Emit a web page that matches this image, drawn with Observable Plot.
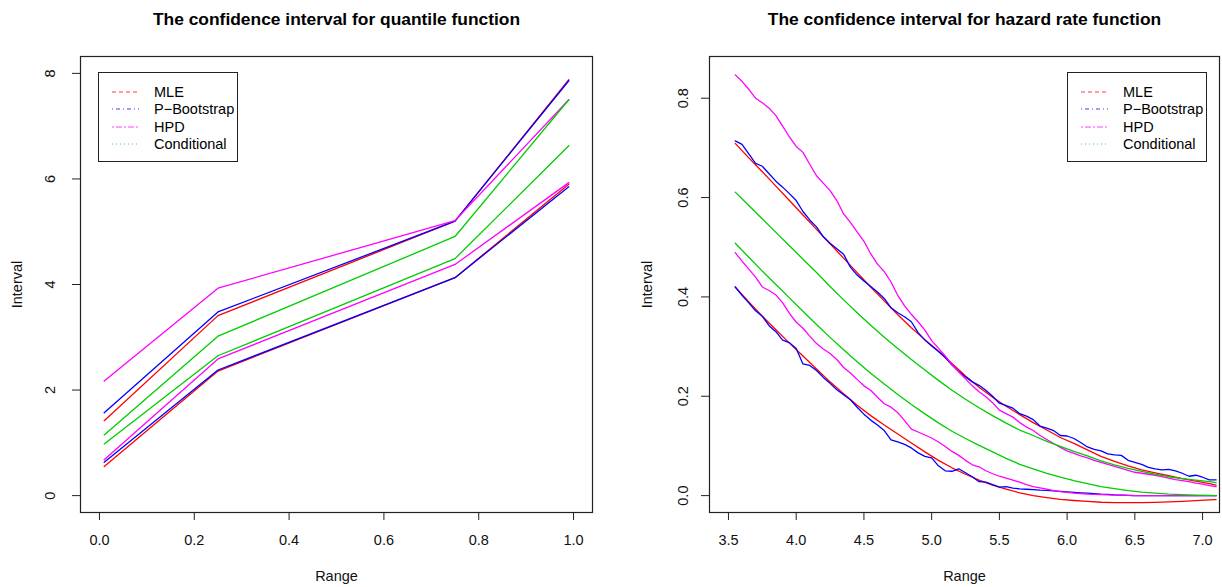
<!DOCTYPE html>
<html><head><meta charset="utf-8">
<script src="https://cdn.jsdelivr.net/npm/d3@7"></script>
<script src="https://cdn.jsdelivr.net/npm/@observablehq/plot@0.6"></script>
<style>
html,body{margin:0;padding:0;background:#fff;}
#wrap{position:relative;width:1222px;height:587px;overflow:hidden;font-family:"Liberation Sans",Arial,Helvetica,sans-serif;color:#000;}
.panel{position:absolute;top:0;}
.legend{position:absolute;border:1px solid #222;box-sizing:border-box;background:#fff;}
.legend .row{position:absolute;left:0;height:18px;line-height:18px;font-size:14.5px;white-space:nowrap;}
.legend svg{position:absolute;left:13px;top:0;}
.legend span{position:absolute;left:55px;top:0;}
</style></head>
<body><div id="wrap"></div>
<script>
// ---------- Data: left panel (quantile function) ----------
const quantileP = [0.01, 0.25, 0.75, 0.99];
const mleLowerQ  = [0.55, 2.36, 4.13, 5.90];
const mleUpperQ  = [1.42, 3.41, 5.20, 7.88];
const bootLowerQ = [0.63, 2.38, 4.13, 5.85];
const bootUpperQ = [1.57, 3.48, 5.20, 7.86];
const hpdLowerQ  = [0.68, 2.59, 4.38, 5.93];
const hpdUpperQ  = [2.17, 3.93, 5.21, 7.50];
const condLowerQ = [0.98, 2.65, 4.49, 6.63];
const condUpperQ = [1.15, 3.02, 4.91, 7.50];
const xTicksQ = [0, 0.2, 0.4, 0.6, 0.8, 1.0];
const yTicksQ = [0, 2, 4, 6, 8];

// ---------- Data: right panel (hazard rate function) ----------
const xs10 = [3.55,3.65,3.75,3.85,3.95,4.05,4.15,4.25,4.35,4.45,4.55,4.65,4.75,4.85,4.95,5.05,5.15,5.25,5.35,5.45,5.55,5.65,5.75,5.85,5.95,6.05,6.15,6.25,6.35,6.45,6.55,6.65,6.75,6.85,6.95,7.05,7.10];
const xs05 = [3.55,3.60,3.65,3.70,3.75,3.80,3.85,3.90,3.95,4.00,4.05,4.10,4.15,4.20,4.25,4.30,4.35,4.40,4.45,4.50,4.55,4.60,4.65,4.70,4.75,4.80,4.85,4.90,4.95,5.00,5.05,5.10,5.15,5.20,5.25,5.30,5.35,5.40,5.45,5.50,5.55,5.60,5.65,5.70,5.75,5.80,5.85,5.90,5.95,6.00,6.05,6.10,6.15,6.20,6.25,6.30,6.35,6.40,6.45,6.50,6.55,6.60,6.65,6.70,6.75,6.80,6.85,6.90,6.95,7.00,7.05,7.10];

const mleUpperH = [0.709,0.680,0.652,0.623,0.594,0.565,0.536,0.507,0.478,0.449,0.420,0.392,0.364,0.338,0.314,0.291,0.266,0.241,0.218,0.198,0.180,0.163,0.147,0.132,0.117,0.105,0.092,0.079,0.069,0.060,0.052,0.046,0.040,0.034,0.029,0.024,0.021];
const mleLowerH = [0.420,0.390,0.361,0.334,0.307,0.281,0.255,0.229,0.205,0.182,0.161,0.142,0.124,0.106,0.088,0.071,0.056,0.043,0.031,0.021,0.013,0.0055,0.000,-0.004,-0.0075,-0.0098,-0.0118,-0.0134,-0.014,-0.0142,-0.014,-0.0135,-0.0127,-0.0115,-0.010,-0.0085,-0.008];
const condUpperH = [0.611,0.584,0.557,0.530,0.503,0.476,0.449,0.421,0.394,0.368,0.343,0.319,0.296,0.274,0.253,0.232,0.212,0.194,0.177,0.161,0.146,0.132,0.121,0.109,0.099,0.089,0.080,0.070,0.062,0.055,0.049,0.043,0.038,0.034,0.031,0.028,0.026];
const condLowerH = [0.508,0.480,0.452,0.425,0.398,0.371,0.3445,0.3185,0.2935,0.2695,0.2465,0.2245,0.2035,0.1835,0.1645,0.1465,0.1295,0.115,0.101,0.088,0.075,0.063,0.054,0.045,0.037,0.030,0.024,0.018,0.014,0.010,0.007,0.005,0.003,0.002,0.001,0.0005,0.000];

const bootUpperH = [0.714,0.707,0.688,0.669,0.663,0.648,0.633,0.621,0.608,0.594,0.572,0.555,0.541,0.521,0.508,0.497,0.486,0.460,0.444,0.432,0.421,0.410,0.397,0.378,0.368,0.360,0.350,0.328,0.313,0.301,0.290,0.278,0.263,0.250,0.239,0.229,0.222,0.212,0.200,0.186,0.181,0.176,0.165,0.160,0.153,0.140,0.136,0.131,0.121,0.120,0.115,0.107,0.098,0.093,0.090,0.084,0.082,0.081,0.071,0.067,0.063,0.057,0.054,0.052,0.053,0.050,0.045,0.039,0.041,0.037,0.0315,0.0315];
const bootLowerH = [0.420,0.403,0.388,0.372,0.361,0.342,0.330,0.313,0.308,0.296,0.265,0.262,0.252,0.238,0.226,0.213,0.203,0.193,0.178,0.164,0.152,0.142,0.131,0.112,0.108,0.103,0.096,0.086,0.079,0.076,0.060,0.050,0.049,0.054,0.046,0.038,0.028,0.027,0.022,0.017,0.018,0.015,0.0135,0.0128,0.012,0.011,0.0105,0.0095,0.0085,0.0075,0.0065,0.0057,0.005,0.004,0.003,0.0025,0.0015,0.001,0.0005,0,0,0,0,0,0,0,0,0,0,0,0,0];
const hpdUpperH = [0.847,0.834,0.818,0.800,0.791,0.780,0.765,0.744,0.722,0.703,0.691,0.667,0.644,0.629,0.614,0.594,0.567,0.550,0.531,0.512,0.487,0.466,0.451,0.430,0.403,0.382,0.365,0.350,0.333,0.312,0.297,0.281,0.264,0.249,0.235,0.221,0.209,0.199,0.187,0.172,0.165,0.158,0.147,0.138,0.131,0.121,0.113,0.105,0.097,0.090,0.085,0.080,0.076,0.071,0.067,0.063,0.059,0.055,0.051,0.047,0.045,0.043,0.041,0.038,0.035,0.032,0.030,0.028,0.025,0.023,0.020,0.018];
const hpdLowerH = [0.489,0.472,0.456,0.440,0.420,0.413,0.404,0.388,0.367,0.349,0.337,0.321,0.306,0.295,0.286,0.274,0.258,0.247,0.234,0.221,0.212,0.198,0.185,0.178,0.167,0.151,0.134,0.128,0.122,0.116,0.108,0.099,0.089,0.081,0.071,0.062,0.058,0.050,0.044,0.039,0.035,0.031,0.027,0.022,0.018,0.0155,0.013,0.010,0.008,0.0067,0.005,0.004,0.003,0.0025,0.002,0.0015,0.001,0.0008,0.0005,0,0,0,0,0,0,0,0,0,0,0,0,0];
const xTicksH = [3.5, 4.0, 4.5, 5.0, 5.5, 6.0, 6.5, 7.0];
const yTicksH = [0.0, 0.2, 0.4, 0.6, 0.8];

const methods = ["MLE", "P\u2212Bootstrap", "HPD", "Conditional"];
const methodColors = ["#ff0000", "#0000ff", "#ff00ff", "#00cd00"];
const legendDash = ["4,3", "1,3,4,3", "2,2,6,2", "1,3"];

// ---------- build long tables ----------
function addSeries(rows, xs, ys, method, bound) {
  ys.forEach((v, i) => rows.push({x: xs[i], y: v, method, key: method + "-" + bound}));
}
const rowsQ = [];
addSeries(rowsQ, quantileP, mleLowerQ, methods[0], "lo"); addSeries(rowsQ, quantileP, mleUpperQ, methods[0], "hi");
addSeries(rowsQ, quantileP, bootLowerQ, methods[1], "lo"); addSeries(rowsQ, quantileP, bootUpperQ, methods[1], "hi");
addSeries(rowsQ, quantileP, hpdLowerQ, methods[2], "lo"); addSeries(rowsQ, quantileP, hpdUpperQ, methods[2], "hi");
addSeries(rowsQ, quantileP, condLowerQ, methods[3], "lo"); addSeries(rowsQ, quantileP, condUpperQ, methods[3], "hi");

const rowsH = [];
addSeries(rowsH, xs10, mleLowerH, methods[0], "lo"); addSeries(rowsH, xs10, mleUpperH, methods[0], "hi");
addSeries(rowsH, xs05, bootLowerH, methods[1], "lo"); addSeries(rowsH, xs05, bootUpperH, methods[1], "hi");
addSeries(rowsH, xs05, hpdLowerH, methods[2], "lo"); addSeries(rowsH, xs05, hpdUpperH, methods[2], "hi");
addSeries(rowsH, xs10, condLowerH, methods[3], "lo"); addSeries(rowsH, xs10, condUpperH, methods[3], "hi");

const FONT = '"Liberation Sans", Arial, Helvetica, sans-serif';
const T = {textAnchor: "middle", lineAnchor: "middle"};

function panel({rows, title, xDomain, yDomain, xTicks, yTicks, xFmt, yFmt, marginLeft, marginRight, yLabDx, yTitleDx}) {
  return Plot.plot({
    width: 611, height: 587,
    marginLeft, marginRight, marginTop: 56, marginBottom: 75,
    style: {fontFamily: FONT, fontSize: "14.5px", color: "#000", background: "transparent", overflow: "visible"},
    x: {domain: xDomain},
    y: {domain: yDomain},
    color: {domain: methods, range: methodColors},
    marks: [
      Plot.axisX({ticks: xTicks, tickSize: 8, tickFormat: () => "", label: null, stroke: "#222"}),
      Plot.axisY({ticks: yTicks, tickSize: 8, tickFormat: () => "", label: null, stroke: "#222"}),
      Plot.text(xTicks, {...T, x: d => d, frameAnchor: "bottom", dy: 28, text: xFmt, fontSize: 14.5, fill: "#111"}),
      Plot.text(yTicks, {...T, y: d => d, frameAnchor: "left", dx: yLabDx, text: yFmt, rotate: -90, fontSize: 14.5, fill: "#111"}),
      Plot.line(rows, {x: "x", y: "y", z: "key", stroke: "method", strokeWidth: 1.3, curve: "linear"}),
      Plot.frame({stroke: "#222", strokeWidth: 1.2}),
      Plot.text([title], {...T, frameAnchor: "top", dy: -37, fontWeight: "bold", fontSize: 17.4, fill: "#000"}),
      Plot.text(["Range"], {...T, frameAnchor: "bottom", dy: 64, fontSize: 14.5, fill: "#111"}),
      Plot.text(["Interval"], {...T, frameAnchor: "left", dx: yTitleDx, rotate: -90, fontSize: 14.5, fill: "#111"})
    ]
  });
}

const wrap = document.getElementById("wrap");

const left = panel({
  rows: rowsQ, title: "The confidence interval for quantile function",
  xDomain: [-0.04, 1.04], yDomain: [-0.32, 8.32],
  xTicks: xTicksQ, yTicks: yTicksQ,
  xFmt: d3.format(".1f"), yFmt: d => String(d),
  marginLeft: 80, marginRight: 19, yLabDx: -30, yTitleDx: -63
});
left.classList.add("panel"); left.style.left = "0px";
wrap.appendChild(left);

const right = panel({
  rows: rowsH, title: "The confidence interval for hazard rate function",
  xDomain: [3.36, 7.125], yDomain: [-0.034, 0.884],
  xTicks: xTicksH, yTicks: yTicksH,
  xFmt: d3.format(".1f"), yFmt: d3.format(".1f"),
  marginLeft: 98, marginRight: 3, yLabDx: -26, yTitleDx: -62
});
right.classList.add("panel"); right.style.left = "611px";
wrap.appendChild(right);

function legend(leftPx, topPx) {
  const box = document.createElement("div");
  box.className = "legend";
  Object.assign(box.style, {left: leftPx + "px", top: topPx + "px", width: "140px", height: "90px"});
  methods.forEach((m, i) => {
    const row = document.createElement("div");
    row.className = "row";
    row.style.top = (9.5 + i * 17.6) + "px";
    row.innerHTML = `<svg width="27" height="18"><line x1="0" x2="27" y1="9" y2="9" stroke="${methodColors[i]}" stroke-opacity="0.75" stroke-width="1" stroke-dasharray="${legendDash[i]}"/></svg><span>${m}</span>`;
    box.appendChild(row);
  });
  wrap.appendChild(box);
}
legend(98, 72);
legend(1067, 72);
</script></body></html>
